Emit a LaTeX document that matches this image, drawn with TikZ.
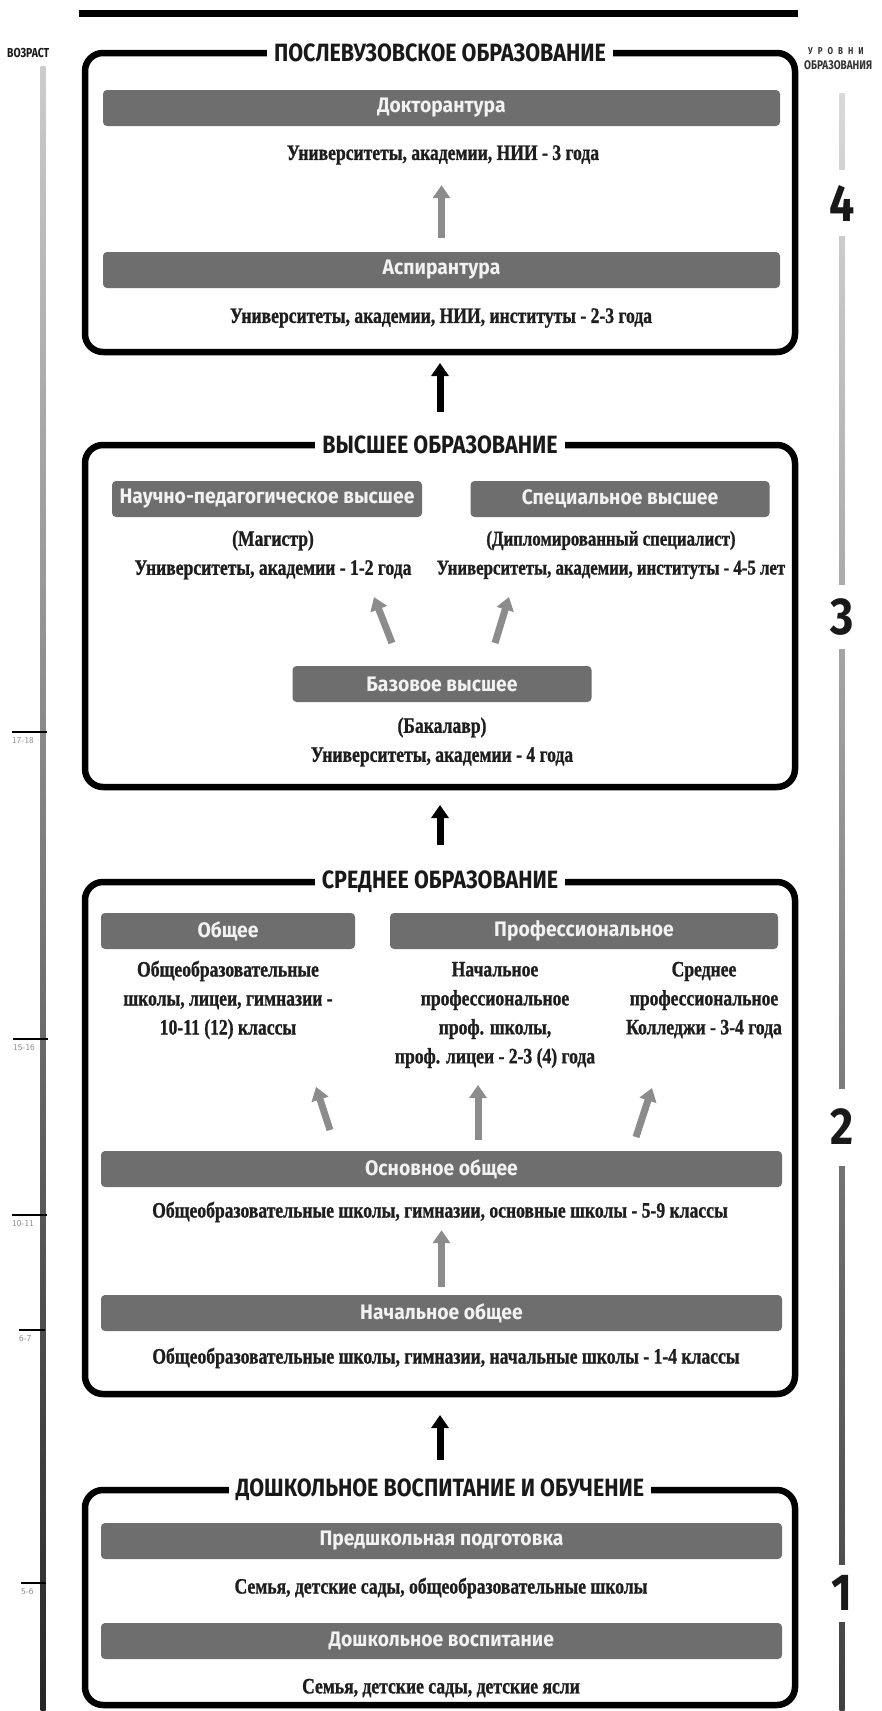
\documentclass[tikz,border=0pt]{standalone}
\usepackage{fontspec}
\setmainfont{Liberation Serif}
\newfontfamily\descfont[FakeStretch=0.8,FakeBold=1]{Liberation Serif}
\newfontfamily\barfont[FakeStretch=0.92]{Fira Sans}
\newfontfamily\titlefont[FakeStretch=0.86]{Fira Sans}
\newfontfamily\sidefont[FakeStretch=0.8]{Fira Sans}
\usetikzlibrary{arrows.meta,calc}
\definecolor{bargray}{HTML}{6E6E6E}
\definecolor{arrowgray}{HTML}{8C8C8C}
\definecolor{textdark}{HTML}{1E1E1E}
\definecolor{bartext}{HTML}{F2F2F2}
\begin{document}
\begin{tikzpicture}[x=1pt,y=-1pt,
  box/.style={draw=black, line width=6.5pt, rounded corners=18pt, fill=white, inner sep=0pt, outer sep=0pt},
  boxtitle/.style={fill=white, inner xsep=7pt, inner ysep=2pt, font=\titlefont\bfseries\fontsize{25}{27}\selectfont, text=black!90},
  bar/.style={fill=bargray, rounded corners=4pt, minimum height=36pt, inner sep=0pt, text=bartext, font=\barfont\bfseries\fontsize{21}{24}\selectfont},
  desc/.style={font=\descfont\bfseries\fontsize{22}{29}\selectfont, text=textdark, inner sep=0pt, align=center},
  grayarrow/.style={draw=arrowgray, line width=7pt, -{Triangle[width=17pt,length=13pt]}},
  blackarrow/.style={draw=black, line width=7pt, -{Triangle[width=17pt,length=13pt]}},
  agetick/.style={draw=black, line width=2.5pt},
  agelabel/.style={font=\sffamily\fontsize{9}{10}\selectfont, text=black!45, inner sep=0pt},
  levelnum/.style={fill=white, minimum width=30pt, inner sep=0pt, font=\titlefont\bfseries\fontsize{52}{52}\selectfont, text=black!90},
  sidehead/.style={font=\sidefont\bfseries\fontsize{13}{14}\selectfont, inner sep=0pt, text=black!90}
]
\clip (0,0) rectangle (882,1711);
\fill[white] (0,0) rectangle (882,1711);

% top rule
\draw[line width=7pt] (79,13) -- (798,13);

% age axis
\shade[top color=black!20, bottom color=black!85] (40.5,66) rectangle (45.5,1711);
\node[sidehead, anchor=west] (vozrast) at (7,53) {ВОЗРАСТ};
\coordinate (t1718) at (12,732);
\coordinate (t1516) at (13,1039);
\coordinate (t1011) at (12,1215);
\coordinate (t67) at (19,1330);
\coordinate (t56) at (21,1583);
\coordinate (axr1) at (47,732);
\coordinate (axr2) at (48,1039);
\coordinate (axr3) at (47,1215);
\coordinate (axr4) at (45,1330);
\coordinate (axr5) at (46,1583);
\draw[agetick] (t1718) -- (axr1);
\draw[agetick] (t1516) -- (axr2);
\draw[agetick] (t1011) -- (axr3);
\draw[agetick] (t67) -- (axr4);
\draw[agetick] (t56) -- (axr5);
\node[agelabel, anchor=north west] (l1718) at (12,737) {17-18};
\node[agelabel, anchor=north west] (l1516) at (13,1044) {15-16};
\node[agelabel, anchor=north west] (l1011) at (12,1220) {10-11};
\node[agelabel, anchor=north west] (l67) at (19,1335) {6-7};
\node[agelabel, anchor=north west] (l56) at (21,1588) {5-6};

% level axis
\shade[top color=black!15, bottom color=black!75] (839.5,93) rectangle (844.5,1711);
\node[font=\sidefont\bfseries\fontsize{10}{11}\selectfont, anchor=west, inner sep=0pt, text=black!80] (urovni) at (808,51) {У\hspace{5pt}Р\hspace{5pt}О\hspace{5pt}В\hspace{5pt}Н\hspace{5pt}И};
\node[font=\sidefont\bfseries\fontsize{12.5}{13}\selectfont, anchor=west, inner sep=0pt, text=black!80] (obrazov) at (804,65) {ОБРАЗОВАНИЯ};
\node[levelnum, minimum height=66pt] (n4) at (842,203) {4};
\node[levelnum, minimum height=64pt] (n3) at (842,617) {3};
\node[levelnum, minimum height=77pt] (n2) at (842,1127) {2};
\node[levelnum, minimum height=57pt] (n1) at (842,1593) {1};

% ===== Box 1 =====
\node[box, minimum width=710pt, minimum height=299pt] (b1) at (440,202.5) {};
\node[boxtitle] (t1) at (b1.north) {ПОСЛЕВУЗОВСКОЕ ОБРАЗОВАНИЕ};
\node[bar, minimum width=677pt] (dok) at (441.5,108) {Докторантура};
\node[desc] (doktxt) at (443,155) {Университеты, академии, НИИ - 3 года};
\node[bar, minimum width=677pt] (asp) at (441.5,270) {Аспирантура};
\node[desc] (asptxt) at (441,318) {Университеты, академии, НИИ, институты - 2-3 года};
\draw[grayarrow, shorten <=14pt, shorten >=59pt] (asp.north) -- (dok.south);

% ===== Box 2 =====
\node[box, minimum width=710pt, minimum height=342pt] (b2) at (440,616) {};
\node[boxtitle] (t2) at (b2.north) {ВЫСШЕЕ ОБРАЗОВАНИЕ};
\node[bar, minimum width=310pt] (nped) at (267,499) {Научно-педагогическое высшее};
\node[bar, minimum width=299pt] (spec) at (620,499) {Специальное высшее};
\node[desc] (magtxt) at (273,555) {(Магистр)\\Университеты, академии - 1-2 года};
\node[desc, font=\descfont\bfseries\fontsize{21}{29}\selectfont] (spectxt) at (611,555) {(Дипломированный специалист)\\Университеты, академии, институты - 4-5 лет};
\node[bar, minimum width=299pt] (baz) at (442,684) {Базовое высшее};
\node[desc] (baztxt) at (442,742) {(Бакалавр)\\Университеты, академии - 4 года};
\coordinate (a2ls) at (392,643);
\coordinate (a2le) at (374,597);
\coordinate (a2rs) at (495,643);
\coordinate (a2re) at (509,597);
\draw[grayarrow] (a2ls) -- (a2le);
\draw[grayarrow] (a2rs) -- (a2re);

\draw[blackarrow, shorten <=33pt, shorten >=11pt] (b2.north) -- (b1.south);

% ===== Box 3 =====
\node[box, minimum width=710pt, minimum height=512pt] (b3) at (440,1138) {};
\node[boxtitle] (t3) at (b3.north) {СРЕДНЕЕ ОБРАЗОВАНИЕ};
\node[bar, minimum width=254pt] (obsh) at (228,931) {Общее};
\node[bar, minimum width=388pt] (prof) at (584,931) {Профессиональное};
\node[desc] (c1) at (228,1000) {Общеобразовательные\\школы, лицеи, гимназии -\\10-11 (12) классы};
\node[desc] (c2) at (495,1015) {Начальное\\профессиональное\\проф. школы,\\проф. лицеи - 2-3 (4) года};
\node[desc] (c3) at (704,1000) {Среднее\\профессиональное\\Колледжи - 3-4 года};
\node[bar, minimum width=681pt] (osn) at (441.5,1169) {Основное общее};
\node[desc] (osntxt) at (440,1212) {Общеобразовательные школы, гимназии, основные школы - 5-9 классы};
\node[bar, minimum width=681pt] (nach) at (441.5,1313) {Начальное общее};
\node[desc] (nachtxt) at (446,1358) {Общеобразовательные школы, гимназии, начальные школы - 1-4 классы};
\coordinate (a3ls) at (330,1130);
\coordinate (a3le) at (316,1087);
\coordinate (a3ms) at (478,1140);
\coordinate (a3me) at (478,1085);
\coordinate (a3rs) at (636,1137);
\coordinate (a3re) at (652,1088);
\draw[grayarrow] (a3ls) -- (a3le);
\draw[grayarrow] (a3ms) -- (a3me);
\draw[grayarrow] (a3rs) -- (a3re);
\draw[grayarrow, shorten <=8pt, shorten >=43pt] (nach.north) -- (osn.south);

\draw[blackarrow, shorten <=37pt, shorten >=18pt] (b3.north) -- (b2.south);

% ===== Box 4 =====
\node[box, minimum width=710pt, minimum height=215pt] (b4) at (440,1597.5) {};
\node[boxtitle] (t4) at (b4.north) {ДОШКОЛЬНОЕ ВОСПИТАНИЕ И ОБУЧЕНИЕ};
\node[bar, minimum width=681pt] (pred) at (441.5,1541) {Предшкольная подготовка};
\node[desc] (predtxt) at (441,1588) {Семья, детские сады, общеобразовательные школы};
\node[bar, minimum width=681pt] (dosh) at (441.5,1641) {Дошкольное воспитание};
\node[desc] (doshtxt) at (441,1688) {Семья, детские сады, детские ясли};

\draw[blackarrow, shorten <=30pt, shorten >=21pt] (b4.north) -- (b3.south);
\end{tikzpicture}
\end{document}
